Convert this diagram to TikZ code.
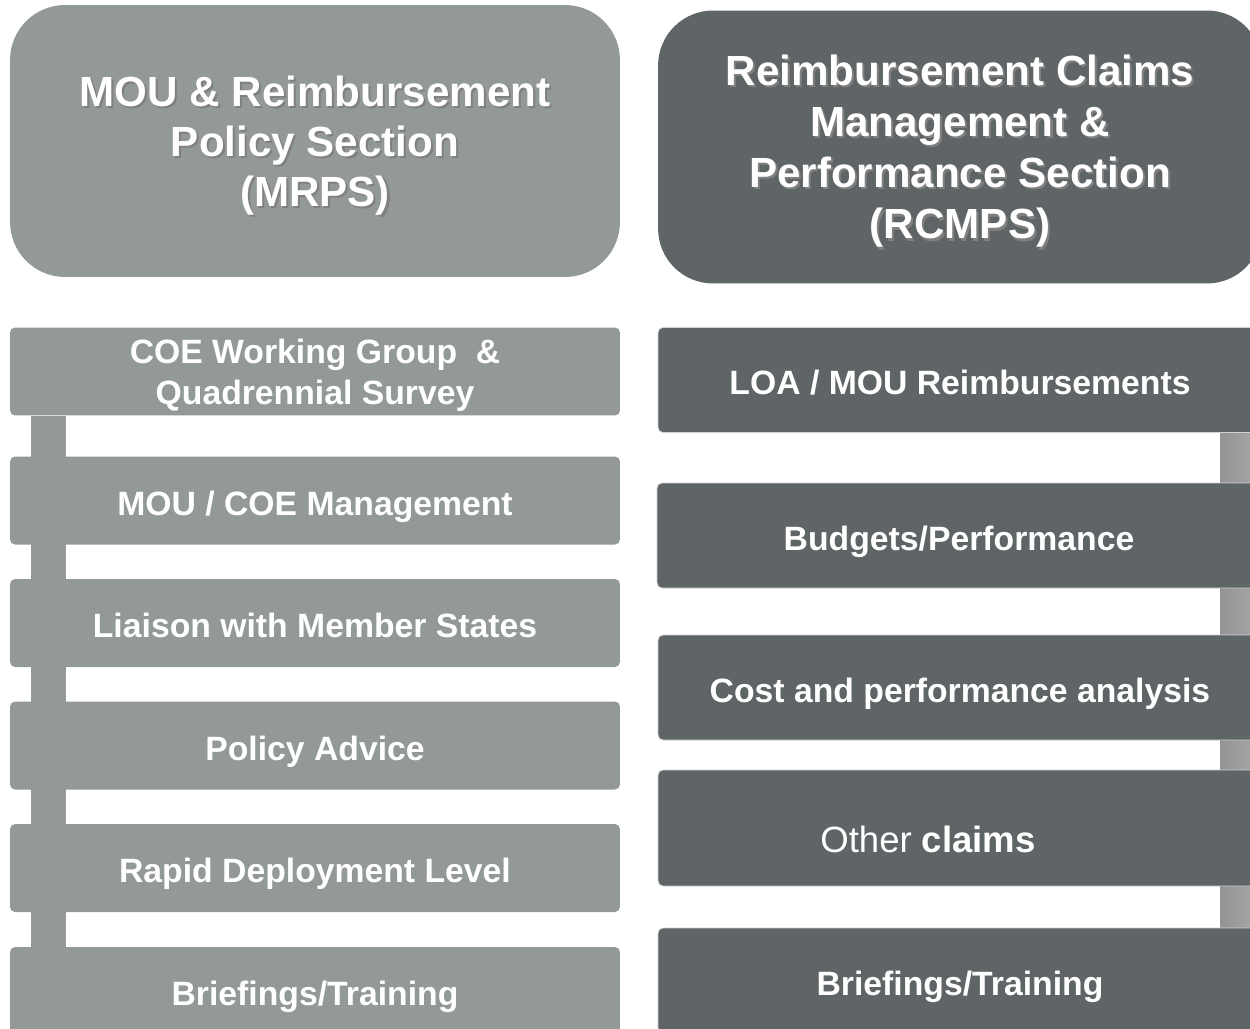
\documentclass[tikz,border=0pt]{standalone}
\usepackage{fontspec}
\setmainfont{Liberation Sans}
\usepackage{tikz}
\usetikzlibrary{calc,backgrounds}
\definecolor{mrpsgray}{HTML}{939899}
\definecolor{rcmpsgray}{HTML}{5F6466}
\newcommand{\shadowtxt}[1]{\leavevmode\rlap{\kern1.2pt\raisebox{-1.2pt}{\color{black!50}#1}}#1}
\tikzstyle{head1} = [rectangle, rounded corners=1.1cm, fill=mrpsgray, text=white,
                     font=\fontsize{24}{28.6}\selectfont\bfseries, align=center,
                     text depth=-1.8pt, minimum width=12.2cm, minimum height=5.44cm]
\tikzstyle{head2} = [head1, fill=rcmpsgray, font=\fontsize{24}{29.1}\selectfont\bfseries,
                     minimum width=12.08cm, minimum height=5.46cm]
\tikzstyle{task1} = [rectangle, rounded corners=0.1cm, fill=mrpsgray, text=white,
                     font=\fontsize{19.2}{23.2}\selectfont\bfseries, align=center,
                     text height=16.6pt, text depth=0pt, minimum width=12.2cm, minimum height=1.76cm]
\tikzstyle{task2} = [task1, fill=rcmpsgray, draw=black!18, line width=0.4pt,
                     minimum width=12.08cm, minimum height=2.1cm]
\begin{document}
\begin{tikzpicture}[x=0.02cm, y=-0.02cm,
link/.style={left color=black!42, middle color=black!14, right color=black!36}]
\useasboundingbox (0,0) rectangle (1250,1028);
\clip (0,0) rectangle (1250,1028);

%Sections
\node[head1] at (315,141) (mrps) {\shadowtxt{MOU \& Reimbursement}\\ \shadowtxt{Policy Section}\\ \shadowtxt{(MRPS)}};
\node[head2] at (960,147) (rcmps) {\shadowtxt{Reimbursement Claims}\\ \shadowtxt{Management \&}\\ \shadowtxt{Performance Section}\\ \shadowtxt{(RCMPS)}};

%MRPS
\node[task1, text height=, text depth=-1.8pt] at (315,371.5) (coe) {COE Working Group~~\&\\Quadrennial Survey};
\node[task1] at (315,500.5) (mou) {MOU / COE Management};
\node[task1] at (315,623) (liaison) {Liaison with Member States};
\node[task1] at (315,745.5) (policy) {Policy Advice};
\node[task1] at (315,868) (rdl) {Rapid Deployment Level};
\node[task1] at (315,991) (brief1) {Briefings/Training};

%RCMPS
\node[task2] at (960,380) (loa) {LOA / MOU Reimbursements};
\node[task2] at (959,535.5) (budget) {Budgets/Performance};
\node[task2] at (960,687.5) (cost) {Cost and performance analysis};
\node[task2, minimum height=2.32cm, text height=27.4pt, font=\fontsize{20.8}{24}\selectfont] at (960,828) (other) {Other \textbf{claims}\hspace*{1.28cm}};
\node[task2] at (960,980.5) (brief2) {Briefings/Training};

%Links
\begin{scope}[on background layer]
\fill[mrpsgray] ($(coe.south west)+(21,0)$) rectangle ($(brief1.north west)+(56,0)$);
\shade[link] ($(loa.south east)+(-42,0)$) rectangle ($(brief2.north east)+(-12,0)$);
\end{scope}
\end{tikzpicture}
\end{document}
